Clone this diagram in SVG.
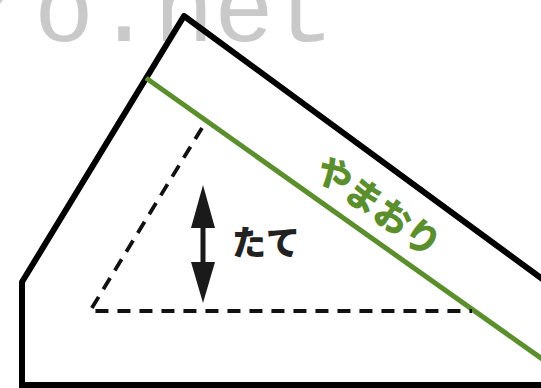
<svg xmlns="http://www.w3.org/2000/svg" width="541" height="388" viewBox="0 0 541 388">
<style>
.outline{fill:none;stroke:#000;stroke-width:6;stroke-linejoin:round;stroke-linecap:butt}
.fold{fill:none;stroke:#5b8e2d;stroke-width:5}
.dash{fill:none;stroke:#111;stroke-width:3.8;stroke-dasharray:13 9}
.jp{font-family:"Noto Sans CJK JP","Noto Sans CJK SC",sans-serif;font-weight:900}
</style>
<rect width="541" height="388" fill="#fff"/>
<g id="watermark">
<text x="-26" y="41" font-family="Liberation Mono, monospace" font-size="100" fill="#c9c9c9">ro.net</text>
</g>
<g id="paper">
<path class="outline" d="M22,392 L22,282 L184,16 L545,281"/>
<path class="outline" d="M19,385 L545,385"/>
</g>
<g id="connectors">
<path id="mountain-fold" class="fold" d="M146,78 L545,361"/>
<path id="dashed-triangle" class="dash" d="M202,128 L90,311 L472,311"/>
<g id="height-arrow">
<line x1="203" y1="220" x2="203" y2="270" stroke="#1a1a1a" stroke-width="5"/>
<path d="M203,185 L215,228 L191,228 Z" fill="#1a1a1a"/>
<path d="M203,303 L215,262 L191,262 Z" fill="#1a1a1a"/>
</g>
</g>
<g id="label-tate">
<text class="jp" x="266" y="255" font-size="34" fill="#222" text-anchor="middle">たて</text>
</g>
<g id="label-yamaori">
<text class="jp" x="380" y="204" font-size="36" fill="#5b8e2d" text-anchor="middle" dominant-baseline="central" transform="rotate(35.5 380 204)">やまおり</text>
</g>
</svg>
